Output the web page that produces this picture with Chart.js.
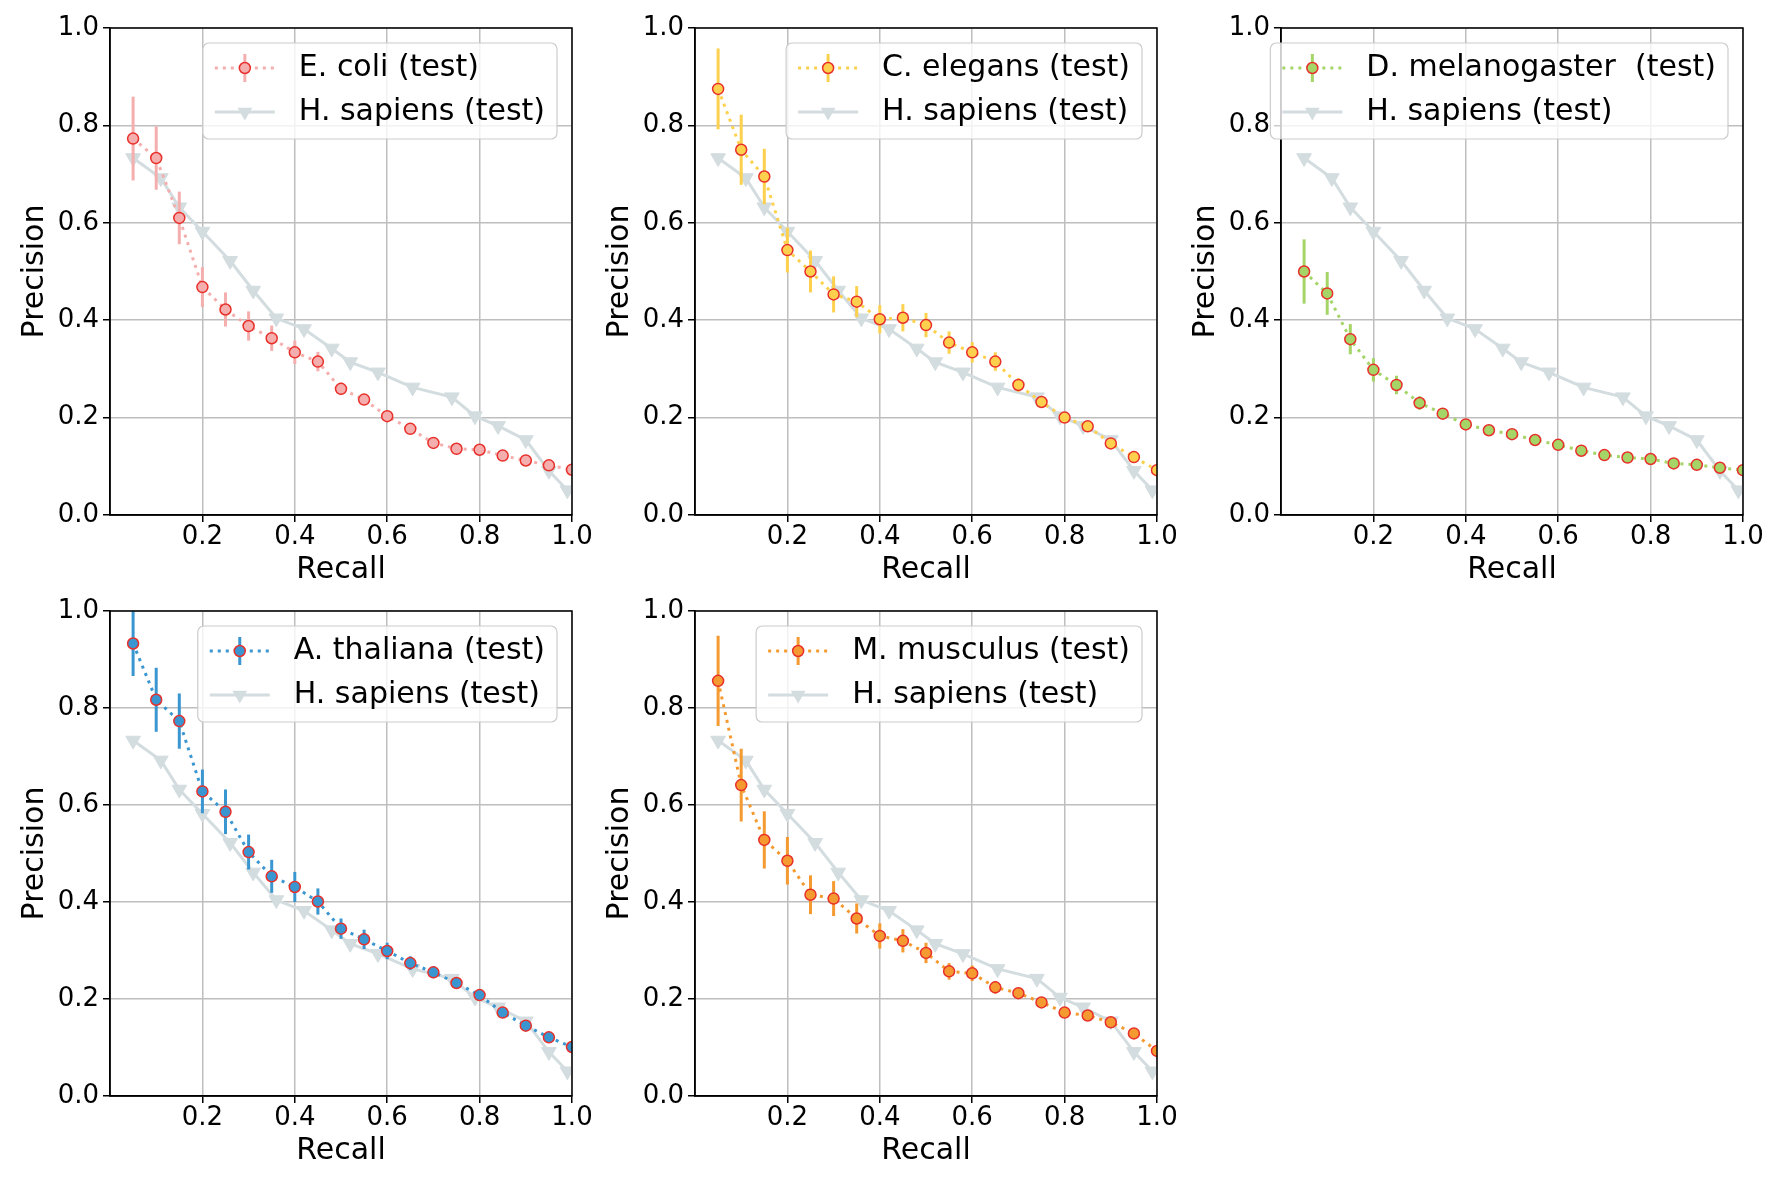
<!DOCTYPE html>
<html>
<head>
<meta charset="utf-8">
<script src="https://cdn.jsdelivr.net/npm/chart.js@4.4.1/dist/chart.umd.min.js"></script>
<style>
  body { margin: 0; background: #fff; }
  #page { position: relative; width: 1778px; height: 1182px; background: #fff; }
  .panel { position: absolute; width: 602px; }
</style>
</head>
<body>
<div id="page">
  <div class="panel" style="left:0px;top:8px;height:580px"><canvas id="c1"></canvas></div>
  <div class="panel" style="left:585px;top:8px;height:580px"><canvas id="c2"></canvas></div>
  <div class="panel" style="left:1171px;top:8px;height:580px"><canvas id="c3"></canvas></div>
  <div class="panel" style="left:0px;top:591px;height:578px"><canvas id="c4"></canvas></div>
  <div class="panel" style="left:585px;top:591px;height:578px"><canvas id="c5"></canvas></div>
</div>
<script>
// recall thresholds of the test curves
var recall = [0.05, 0.10, 0.15, 0.20, 0.25, 0.30, 0.35, 0.40, 0.45, 0.50,
              0.55, 0.60, 0.65, 0.70, 0.75, 0.80, 0.85, 0.90, 0.95, 1.00];

// H. sapiens reference curve (own recall points)
var hsRecall = [0.05, 0.11, 0.15, 0.20, 0.26, 0.31, 0.36, 0.42, 0.48, 0.52,
                0.58, 0.655, 0.74, 0.79, 0.84, 0.90, 0.95, 0.99];
var hsPrecision = [0.733, 0.692, 0.632, 0.582, 0.522, 0.461, 0.404, 0.382, 0.342, 0.314,
                   0.293, 0.262, 0.242, 0.203, 0.183, 0.154, 0.091, 0.051];

var ecoli = [0.773, 0.733, 0.610, 0.468, 0.422, 0.388, 0.363, 0.334, 0.315, 0.259,
             0.237, 0.203, 0.177, 0.148, 0.136, 0.134, 0.122, 0.112, 0.102, 0.093];
var ecoliErr = [0.086, 0.065, 0.054, 0.041, 0.035, 0.030, 0.026, 0.024, 0.020, 0.013,
                0.010, 0.007, 0.006, 0.005, 0.005, 0.004, 0.004, 0.004, 0.003, 0.003];

var elegans = [0.875, 0.750, 0.695, 0.544, 0.500, 0.453, 0.438, 0.402, 0.405, 0.390,
               0.354, 0.334, 0.315, 0.267, 0.232, 0.200, 0.182, 0.147, 0.119, 0.092];
var elegansErr = [0.083, 0.072, 0.057, 0.046, 0.043, 0.037, 0.032, 0.029, 0.028, 0.025,
                  0.023, 0.021, 0.019, 0.014, 0.011, 0.008, 0.006, 0.005, 0.004, 0.003];

var melano = [0.500, 0.455, 0.361, 0.298, 0.267, 0.230, 0.208, 0.186, 0.174, 0.166,
              0.154, 0.144, 0.132, 0.123, 0.118, 0.115, 0.106, 0.103, 0.097, 0.092];
var melanoErr = [0.066, 0.044, 0.031, 0.024, 0.019, 0.014, 0.009, 0.006, 0.005, 0.005,
                 0.004, 0.004, 0.003, 0.003, 0.003, 0.003, 0.002, 0.002, 0.002, 0.002];

var thaliana = [0.933, 0.817, 0.773, 0.628, 0.586, 0.503, 0.453, 0.431, 0.401, 0.345,
                0.323, 0.299, 0.274, 0.255, 0.233, 0.208, 0.172, 0.145, 0.121, 0.101];
var thalianaErr = [0.067, 0.066, 0.057, 0.045, 0.046, 0.036, 0.034, 0.031, 0.027, 0.021,
                   0.020, 0.017, 0.014, 0.012, 0.010, 0.007, 0.005, 0.004, 0.003, 0.003];

var musculus = [0.856, 0.641, 0.528, 0.485, 0.415, 0.407, 0.366, 0.330, 0.320, 0.295,
                0.257, 0.253, 0.224, 0.212, 0.193, 0.172, 0.166, 0.152, 0.129, 0.093];
var musculusErr = [0.093, 0.075, 0.059, 0.049, 0.040, 0.036, 0.031, 0.026, 0.024, 0.021,
                   0.017, 0.016, 0.013, 0.011, 0.009, 0.007, 0.006, 0.005, 0.004, 0.003];

var yTicks = [0.0, 0.2, 0.4, 0.6, 0.8, 1.0];

var FONT = '"DejaVu Sans", sans-serif';
var EDGE = '#e8302b';
var GREY = '#d3dcdf';

// vertical error bars, drawn just before the test curve
var errorBars = {
    id: 'errorBars',
    beforeDatasetDraw: function (chart, args) {
        if (args.index !== 0) return;
        var ds = chart.data.datasets[0];
        var xs = chart.scales.x, ys = chart.scales.y, a = chart.chartArea;
        var ctx = chart.ctx;
        ctx.save();
        ctx.beginPath();
        ctx.rect(a.left, a.top, a.right - a.left, a.bottom - a.top);
        ctx.clip();
        ctx.strokeStyle = ds.barColor;
        ctx.lineWidth = 3;
        for (var i = 0; i < ds.data.length; i++) {
            var p = ds.data[i];
            var px = xs.getPixelForValue(p.x);
            ctx.beginPath();
            ctx.moveTo(px, ys.getPixelForValue(p.y - ds.errors[i]));
            ctx.lineTo(px, ys.getPixelForValue(p.y + ds.errors[i]));
            ctx.stroke();
        }
        ctx.restore();
    }
};

function roundRect(ctx, x, y, w, h, r) {
    ctx.beginPath();
    ctx.moveTo(x + r, y);
    ctx.arcTo(x + w, y, x + w, y + h, r);
    ctx.arcTo(x + w, y + h, x, y + h, r);
    ctx.arcTo(x, y + h, x, y, r);
    ctx.arcTo(x, y, x + w, y, r);
    ctx.closePath();
}

// axes frame and matplotlib style legend
var frameLegend = {
    id: 'frameLegend',
    afterDatasetsDraw: function (chart) {
        var ctx = chart.ctx, a = chart.chartArea;
        var test = chart.data.datasets[0], hs = chart.data.datasets[1];
        ctx.save();
        ctx.strokeStyle = '#000';
        ctx.lineWidth = 1.5;
        ctx.strokeRect(a.left, a.top, a.right - a.left, a.bottom - a.top);

        var fs = 30;
        ctx.font = fs + 'px ' + FONT;
        var tw = Math.max(ctx.measureText(test.label).width, ctx.measureText(hs.label).width);
        var w = 0.4 * fs + 2 * fs + 0.8 * fs + tw + 0.4 * fs;
        var h = 96;
        var right = a.right - 15, left = right - w, top = a.top + 15;
        roundRect(ctx, left, top, w, h, 6);
        ctx.fillStyle = 'rgba(255,255,255,0.8)';
        ctx.fill();
        ctx.strokeStyle = '#cccccc';
        ctx.lineWidth = 1.2;
        ctx.stroke();

        var x0 = left + 0.4 * fs, x1 = x0 + 2 * fs, xm = (x0 + x1) / 2;
        var y1 = top + 25, y2 = top + 69;

        // test handle: dotted line, error bar, circle
        ctx.setLineDash([3, 5]);
        ctx.strokeStyle = test.borderColor;
        ctx.lineWidth = 3;
        ctx.beginPath(); ctx.moveTo(x0, y1); ctx.lineTo(x1, y1); ctx.stroke();
        ctx.setLineDash([]);
        ctx.strokeStyle = test.barColor;
        ctx.beginPath(); ctx.moveTo(xm, y1 - 14); ctx.lineTo(xm, y1 + 14); ctx.stroke();
        ctx.beginPath(); ctx.arc(xm, y1, 5.5, 0, Math.PI * 2);
        ctx.fillStyle = test.pointBackgroundColor; ctx.fill();
        ctx.strokeStyle = EDGE; ctx.lineWidth = 1.5; ctx.stroke();

        // H. sapiens handle: solid line, down triangle
        ctx.strokeStyle = GREY; ctx.lineWidth = 3;
        ctx.beginPath(); ctx.moveTo(x0, y2); ctx.lineTo(x1, y2); ctx.stroke();
        var r = 8.5;
        ctx.beginPath();
        ctx.moveTo(xm, y2 + r);
        ctx.lineTo(xm - r * 0.866, y2 - r / 2);
        ctx.lineTo(xm + r * 0.866, y2 - r / 2);
        ctx.closePath();
        ctx.fillStyle = GREY; ctx.fill();

        ctx.fillStyle = '#000';
        ctx.textBaseline = 'middle';
        ctx.textAlign = 'left';
        ctx.fillText(test.label, x1 + 0.8 * fs, y1);
        ctx.fillText(hs.label, x1 + 0.8 * fs, y2);
        ctx.restore();
    }
};

function toPoints(xs, ys) {
    return xs.map(function (x, i) { return { x: x, y: ys[i] }; });
}

function makeChart(id, label, values, errors, color) {
    new Chart(document.getElementById(id), {
        type: 'line',
        data: {
            datasets: [
                {
                    label: label,
                    data: toPoints(recall, values),
                    errors: errors,
                    barColor: color,
                    borderColor: color,
                    borderWidth: 3,
                    borderDash: [3, 5],
                    pointRadius: 5.5,
                    pointBackgroundColor: color,
                    pointBorderColor: EDGE,
                    pointBorderWidth: 1.5,
                    tension: 0,
                    fill: false,
                    clip: 0
                },
                {
                    label: 'H. sapiens (test)',
                    data: toPoints(hsRecall, hsPrecision),
                    borderColor: GREY,
                    borderWidth: 3,
                    pointStyle: 'triangle',
                    rotation: 180,
                    pointRadius: 8.5,
                    pointBackgroundColor: GREY,
                    pointBorderColor: GREY,
                    pointBorderWidth: 1,
                    tension: 0,
                    fill: false,
                    clip: 0
                }
            ]
        },
        options: {
            responsive: true,
            maintainAspectRatio: false,
            animation: false,
            events: [],
            layout: { padding: { top: 20, right: 30, left: 0, bottom: 0 } },
            plugins: { legend: { display: false }, tooltip: { enabled: false } },
            scales: {
                x: {
                    type: 'linear',
                    min: 0,
                    max: 1,
                    afterBuildTicks: function (s) {
                        s.ticks = s.ticks.filter(function (t) { return t.value > 0.01; });
                    },
                    afterFit: function (s) { s.height = 73; },
                    ticks: {
                        stepSize: 0.2,
                        autoSkip: false,
                        maxRotation: 0,
                        padding: 0,
                        color: '#000',
                        font: { family: FONT, size: 26 },
                        callback: function (v) { return v.toFixed(1); }
                    },
                    grid: { color: '#bebebe', lineWidth: 1.5, tickLength: 7, tickColor: '#000', tickWidth: 1.5 },
                    border: { display: true, color: '#000', width: 1.5 },
                    title: { display: true, text: 'Recall', color: '#000', font: { family: FONT, size: 30 }, padding: { top: 0, bottom: 0 } }
                },
                y: {
                    type: 'linear',
                    min: 0,
                    max: 1,
                    afterBuildTicks: function (s) {
                        s.ticks = yTicks.map(function (v) { return { value: v }; });
                    },
                    afterFit: function (s) { s.width = 110; },
                    ticks: {
                        autoSkip: false,
                        padding: 4,
                        color: '#000',
                        font: { family: FONT, size: 26 },
                        callback: function (v) { return v.toFixed(1); }
                    },
                    grid: { color: '#bebebe', lineWidth: 1.5, tickLength: 7, tickColor: '#000', tickWidth: 1.5 },
                    border: { display: true, color: '#000', width: 1.5 },
                    title: { display: true, text: 'Precision', color: '#000', font: { family: FONT, size: 30 }, padding: { top: 17, bottom: 0 } }
                }
            }
        },
        plugins: [errorBars, frameLegend]
    });
}

makeChart('c1', 'E. coli (test)', ecoli, ecoliErr, '#f5aeae');
makeChart('c2', 'C. elegans (test)', elegans, elegansErr, '#fdd14d');
makeChart('c3', 'D. melanogaster  (test)', melano, melanoErr, '#a5d467');
makeChart('c4', 'A. thaliana (test)', thaliana, thalianaErr, '#3a96d0');
makeChart('c5', 'M. musculus (test)', musculus, musculusErr, '#f59a30');
</script>
</body>
</html>
